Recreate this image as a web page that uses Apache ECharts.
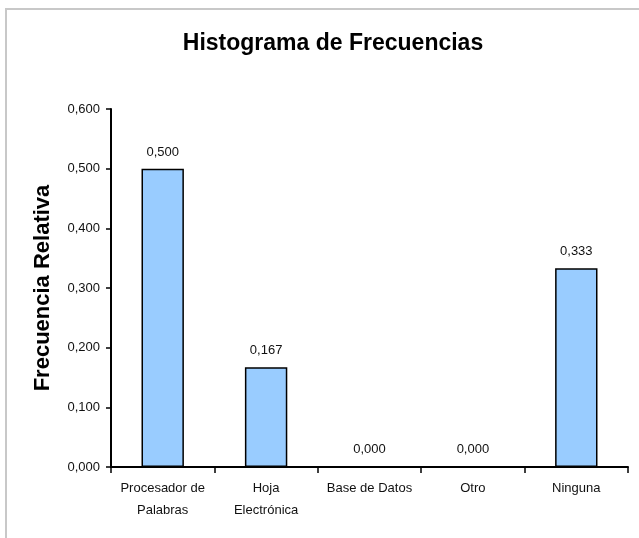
<!DOCTYPE html>
<html>
<head>
<meta charset="utf-8">
<script src="https://cdn.jsdelivr.net/npm/echarts@6/dist/echarts.min.js"></script>
<style>
html,body{margin:0;padding:0;background:#fff;}
#frame{position:absolute;left:5px;top:8px;width:640px;height:540px;border-left:2px solid #c8c8c8;border-top:2px solid #c8c8c8;box-sizing:border-box;}
#chart{position:absolute;left:0;top:0;width:639px;height:538px;}
</style>
</head>
<body>
<div id="frame"></div>
<div id="chart"></div>
<script>
const categories = ['Procesador de\nPalabras', 'Hoja\nElectrónica', 'Base de Datos', 'Otro', 'Ninguna'];
const values = [0.500, 0.167, 0.000, 0.000, 0.333];
const yTicks = [0, 0.1, 0.2, 0.3, 0.4, 0.5, 0.6];

const FONT = 'Liberation Sans, Arial, sans-serif';
const fmt = v => v.toFixed(3).replace('.', ',');
const chart = echarts.init(document.getElementById('chart'));
chart.setOption({
  backgroundColor: 'transparent',
  animation: false,
  title: {
    text: 'Histograma de Frecuencias',
    left: 328,
    textAlign: 'center',
    top: 27,
    textStyle: {fontFamily: FONT, fontSize: 23, fontWeight: 'bold', color: '#000'}
  },
  grid: {left: 111, right: 11, top: 109, bottom: 71},
  xAxis: {
    type: 'category',
    data: categories,
    axisLine: {lineStyle: {color: '#000', width: 2}},
    axisTick: {show: true, alignWithLabel: false, length: 6, lineStyle: {color: '#000', width: 1.5}},
    axisLabel: {fontFamily: FONT, fontSize: 13, color: '#111', lineHeight: 22, margin: 10, interval: 0}
  },
  yAxis: {
    type: 'value',
    min: yTicks[0],
    max: yTicks[yTicks.length - 1],
    interval: 0.1,
    name: 'Frecuencia Relativa',
    nameLocation: 'middle',
    nameGap: 57,
    nameTextStyle: {fontFamily: FONT, fontSize: 22, fontWeight: 'bold', color: '#000'},
    splitLine: {show: false},
    axisLine: {show: true, lineStyle: {color: '#000', width: 2}},
    axisTick: {show: true, length: 5, lineStyle: {color: '#000', width: 1.5}},
    axisLabel: {fontFamily: FONT, fontSize: 13, color: '#111', margin: 11, formatter: v => fmt(v)}
  },
  series: [{
    type: 'bar',
    data: values,
    barWidth: '41%',
    itemStyle: {color: '#99CCFF', borderColor: '#000', borderWidth: 1.5},
    label: {
      show: true,
      position: 'top',
      distance: 10,
      fontFamily: FONT,
      fontSize: 13,
      color: '#111',
      formatter: p => fmt(p.value)
    }
  }]
});
</script>
</body>
</html>
